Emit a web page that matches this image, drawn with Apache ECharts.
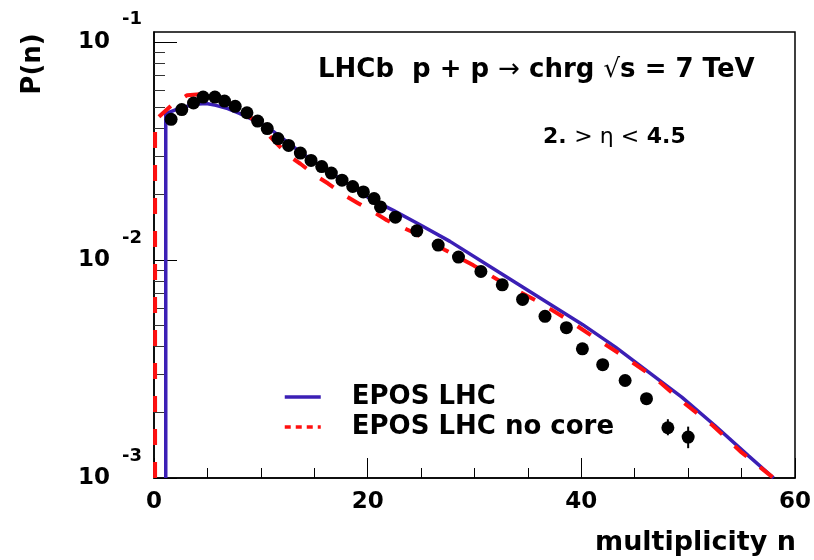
<!DOCTYPE html>
<html>
<head>
<meta charset="utf-8">
<script src="https://cdn.jsdelivr.net/npm/echarts@6/dist/echarts.min.js"></script>
<style>
  html, body { margin: 0; padding: 0; background: #fff; }
  #main { width: 814px; height: 560px; }
</style>
</head>
<body>
<div id="main"></div>
<script>
// LHCb data points (n, P(n))
var dataN = [1.6, 2.6, 3.7, 4.6, 5.7, 6.6, 7.6, 8.7, 9.7, 10.6, 11.6, 12.6, 13.7, 14.7, 15.7, 16.6, 17.6, 18.6, 19.6, 20.6,
  21.2, 22.6, 24.6, 26.6, 28.5, 30.6, 32.6, 34.5, 36.6, 38.6, 40.1, 42.0, 44.1, 46.1, 48.1, 50.0];
var dataP = [0.0441, 0.0489, 0.0524, 0.0558, 0.0558, 0.0535, 0.0506, 0.0473, 0.0433, 0.0400, 0.0360, 0.0335, 0.0309, 0.0286,
  0.0268, 0.0250, 0.0232, 0.0217, 0.0205, 0.0191, 0.0175, 0.0157, 0.0136, 0.0117, 0.0103, 0.00885, 0.00769, 0.00659,
  0.00551, 0.00489, 0.00391, 0.00331, 0.00280, 0.00231, 0.00170, 0.00154];
// error bars on the last points
var errN = [48.1, 50.0];
var errLo = [0.00157, 0.00137];
var errHi = [0.00186, 0.00172];

// EPOS LHC
var blueN = [1.1, 1.1, 2.0, 2.8, 3.8, 4.9, 5.8, 6.9, 8.0, 9.0, 10.6, 12.0, 13.7, 15.5, 17.5, 20.2, 22.4, 24.6, 27.7, 32.3,
  37.0, 40.1, 43.2, 46.3, 49.4, 52.5, 55.6, 58.0];
var blueP = [0.001, 0.0469, 0.0488, 0.0502, 0.0517, 0.0521, 0.0511, 0.0494, 0.0470, 0.0445, 0.0407, 0.0362, 0.0312, 0.0272,
  0.0234, 0.0191, 0.01687, 0.01476, 0.01216, 0.00878, 0.00630, 0.00506, 0.00398, 0.00306, 0.00235, 0.00174, 0.00127, 0.001];

// EPOS LHC no core
var redN = [0.1, 0.1, 1.65, 3.1, 4.3, 5.5, 7.0, 8.7, 10.7, 12.6, 13.7, 15.1, 16.3, 17.8, 19.1, 20.8, 21.8, 24.2, 27.2, 29.9,
  32.8, 35.8, 38.6, 41.4, 44.2, 46.9, 49.5, 52.3, 55.0, 58.0];
var redP = [0.001, 0.0437, 0.0512, 0.0569, 0.0575, 0.0562, 0.0525, 0.0468, 0.0375, 0.0301, 0.0276, 0.0244, 0.0224, 0.0198,
  0.0182, 0.0163, 0.0152, 0.01342, 0.01114, 0.00944, 0.00778, 0.00650, 0.00537, 0.00435, 0.00355, 0.00287, 0.00223,
  0.00174, 0.00131, 0.001];

// axis ticks (y axis works in log10 space)
var yMajor = [-3, -2, -1];
var yMinorMant = [2, 3, 4, 5, 6, 7, 8, 9];
var xTicks = [0, 20, 40, 60];

var FONT = 'DejaVu Sans';
var lg = function (v) { return Math.log10(v); };
var pairs = function (xs, ys) { return xs.map(function (x, i) { return [x, lg(ys[i])]; }); };

var yMinor = [];
yMajor.forEach(function (e) {
  yMinorMant.forEach(function (m) { yMinor.push(e + lg(m)); });
});

var myChart = echarts.init(document.getElementById('main'));
myChart.setOption({
  animation: false,
  backgroundColor: '#fff',
  grid: { left: 154, right: 17, top: 32, bottom: 82, show: true, borderColor: '#000', borderWidth: 1.5, backgroundColor: '#fff' },
  title: [
    {
      left: 313, top: 52,
      text: '{b|LHCb  p + p }{s|\u2192}{b| chrg }{s|\u221A}{b|s = 7 TeV}',
      textStyle: { rich: {
        b: { fontFamily: FONT, fontWeight: 'bold', fontSize: 26, color: '#000' },
        s: { fontFamily: FONT, fontWeight: 'normal', fontSize: 26, color: '#000' }
      } }
    },
    {
      left: 538, top: 121,
      text: '{b|2. }{s|> \u03B7 <}{b| 4.5}',
      textStyle: { rich: {
        b: { fontFamily: FONT, fontWeight: 'bold', fontSize: 22, color: '#000' },
        s: { fontFamily: FONT, fontWeight: 'normal', fontSize: 22, color: '#000' }
      } }
    }
  ],
  legend: {
    orient: 'vertical', left: 278, top: 379, itemWidth: 36, itemHeight: 14, itemGap: 4,
    itemStyle: { opacity: 0 },
    textStyle: { fontFamily: FONT, fontWeight: 'bold', fontSize: 26, color: '#000', padding: [0, 0, 0, 26] },
    data: [
      { name: 'EPOS LHC', lineStyle: { opacity: 1, width: 3.5 } },
      { name: 'EPOS LHC no core', lineStyle: { type: [6, 5], opacity: 1, width: 3.5 } }
    ]
  },
  xAxis: {
    type: 'value', min: 0, max: 60, interval: 20,
    axisLine: { onZero: false, lineStyle: { color: '#000', width: 1.5 } },
    axisTick: { inside: true, length: 20, lineStyle: { color: '#000' }, customValues: xTicks },
    minorTick: { show: true, splitNumber: 4, length: 10, lineStyle: { color: '#000' } },
    axisLabel: { customValues: xTicks, margin: 13, fontFamily: FONT, fontWeight: 'bold', fontSize: 23, color: '#000' },
    splitLine: { show: false }
  },
  yAxis: [
    {
      type: 'value', min: -3, max: -0.955, position: 'left',
      axisLine: { show: true, lineStyle: { color: '#000', width: 1.5 } },
      axisTick: { inside: true, length: 23, lineStyle: { color: '#000' }, customValues: yMajor },
      axisLabel: {
        customValues: yMajor, margin: 12,
        formatter: function (v) { return '{e|' + Math.round(v) + '}\n{b|10}\n{p| }'; },
        rich: {
          e: { fontFamily: FONT, fontWeight: 'bold', fontSize: 18, lineHeight: 22, color: '#000', align: 'right' },
          b: { fontFamily: FONT, fontWeight: 'bold', fontSize: 23, lineHeight: 22, color: '#000', padding: [0, 32, 0, 0], align: 'right' },
          p: { fontSize: 10, lineHeight: 22 }
        }
      },
      splitLine: { show: false }
    },
    {
      type: 'value', min: -3, max: -0.955, position: 'left', offset: 0,
      axisLine: { show: false },
      axisTick: { show: true, inside: true, length: 11, lineStyle: { color: '#333' }, customValues: yMinor },
      axisLabel: { show: false },
      splitLine: { show: false }
    }
  ],
  graphic: [
    { type: 'text', x: 33, y: 64, rotation: Math.PI / 2,
      style: { text: 'P(n)', font: 'bold 26px "DejaVu Sans"', fill: '#000', align: 'center', verticalAlign: 'middle' } },
    { type: 'text', x: 796, y: 543,
      style: { text: 'multiplicity n', font: 'bold 27px "DejaVu Sans"', fill: '#000', align: 'right', verticalAlign: 'middle' } }
  ],
  series: [
    {
      name: 'EPOS LHC', type: 'line', symbol: 'none', clip: true,
      lineStyle: { color: '#3b1fb5', width: 3.5 }, itemStyle: { color: '#3b1fb5' },
      data: pairs(blueN, blueP), z: 2
    },
    {
      name: 'EPOS LHC no core', type: 'line', symbol: 'none', clip: true,
      lineStyle: { color: '#ff1010', width: 4, type: [16, 17] }, itemStyle: { color: '#ff1010' },
      data: pairs(redN, redP), z: 3
    },
    {
      name: 'errors', type: 'custom', z: 4,
      data: errN.map(function (x, i) { return [x, lg(errLo[i]), lg(errHi[i])]; }),
      renderItem: function (params, api) {
        var a = api.coord([api.value(0), api.value(1)]);
        var b = api.coord([api.value(0), api.value(2)]);
        return { type: 'line', shape: { x1: a[0], y1: a[1], x2: b[0], y2: b[1] }, style: { stroke: '#000', lineWidth: 2 } };
      }
    },
    {
      name: 'LHCb', type: 'scatter', symbol: 'circle', symbolSize: 13, z: 5,
      itemStyle: { color: '#000', opacity: 1 },
      data: pairs(dataN, dataP)
    }
  ]
});
</script>
</body>
</html>
